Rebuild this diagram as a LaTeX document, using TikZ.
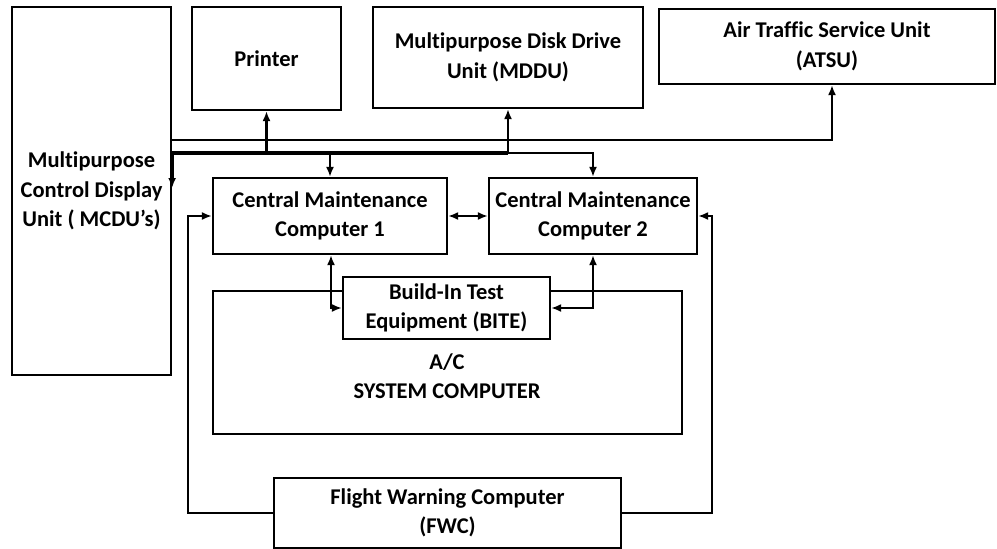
\documentclass[tikz,border=0pt]{standalone}
\usepackage{fontspec}
\setmainfont{Carlito}[Ligatures={NoCommon}]
\usetikzlibrary{calc,arrows.meta}

\begin{document}
\begin{tikzpicture}[x=1pt,y=-1pt,line width=2.2pt,>={Latex[length=10pt,width=8pt]},
  unit/.style={draw,rectangle,align=center,inner sep=0pt,fill=white,font=\fontsize{22.5}{29.5}\selectfont\bfseries},
  bus/.style={line width=3.8pt}]
\useasboundingbox (0,0) rectangle (997,549);
% units
\draw node [unit,minimum width=159,minimum height=368] (MCDU) at (91.5,191) {Multipurpose\\Control Display\\Unit ( MCDU’s)};
\draw node [unit,minimum width=149,minimum height=103] (PRN) at (266.5,58.5) {Printer};
\draw node [unit,minimum width=270,minimum height=101] (MDDU) at (508,57.5) {Multipurpose Disk Drive\\Unit (MDDU)};
\draw node [unit,minimum width=336,minimum height=75] (ATSU) at (827,46.5) {Air Traffic Service Unit\\(ATSU)};
\draw node [unit,minimum width=234,minimum height=76] (CMC1) at (330,216) {Central Maintenance\\Computer 1};
\draw node [unit,minimum width=208,minimum height=76] (CMC2) at (593,216) {Central Maintenance\\Computer 2};
\draw node [unit,minimum width=469,minimum height=143] (ACSYS) at (447.5,362.5) {};
\draw node [unit,draw=none,fill=none] (ACtxt) at (447,376) {A/C\\SYSTEM COMPUTER};
\draw node [unit,minimum width=207,minimum height=62] (BITE) at (446.5,308) {Build-In Test\\Equipment (BITE)};
\draw node [unit,minimum width=347,minimum height=70] (FWC) at (447.5,513) {Flight Warning Computer\\(FWC)};
% bus
\coordinate (busT) at (MCDU.east |- 0,140);
\coordinate (busL) at (MCDU.east |- 0,153);
\draw [->] (busT) -| ($(ATSU.south)+(5,0)$);
\draw [bus,->] (MDDU.south |- busL) -- (busL) -- ++(0,35);
\draw [->] (MDDU.south |- busL) -| (CMC2.north);
\draw [->] (PRN.south |- busL) -- (PRN.south);
\draw [->] (MDDU.south |- busL) -- (MDDU.south);
\draw [->] (CMC1.north |- busL) -- (CMC1.north);
% maintenance links
\draw [<->] (CMC1.east) -- (CMC2.west);
\draw [<->] ($(CMC1.south)+(1,0)$) |- (BITE.west);
\draw [<->] (CMC2.south) |- (BITE.east);
\draw [->] (FWC.west) -| ($(CMC1.west)+(-24,0)$) -- (CMC1.west);
\draw [->] (FWC.east) -| ($(CMC2.east)+(14,0)$) -- (CMC2.east);
\end{tikzpicture}
\end{document}
